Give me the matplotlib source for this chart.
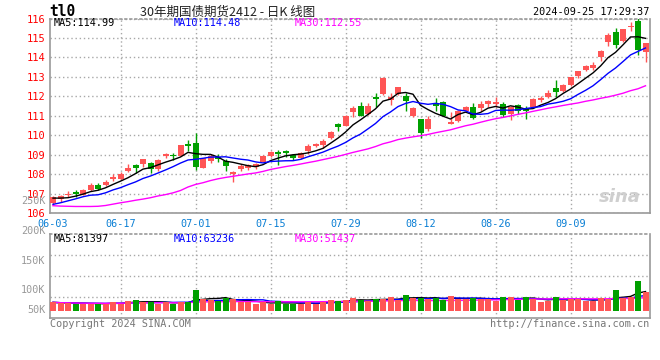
import numpy as np
import pandas as pd
from matplotlib import pyplot as plt


# Daily K-line of the 30-year treasury future (TL2412), 2024-06-03 .. 2024-09-25

dates = ("06-03 06-04 06-05 06-06 06-07 06-11 06-12 06-13 06-14 06-17 "
         "06-18 06-19 06-20 06-21 06-24 06-25 06-26 06-27 06-28 07-01 "
         "07-02 07-03 07-04 07-05 07-08 07-09 07-10 07-11 07-12 07-15 "
         "07-16 07-17 07-18 07-19 07-22 07-23 07-24 07-25 07-26 07-29 "
         "07-30 07-31 08-01 08-02 08-05 08-06 08-07 08-08 08-09 08-12 "
         "08-13 08-14 08-15 08-16 08-19 08-20 08-21 08-22 08-23 08-26 "
         "08-27 08-28 08-29 08-30 09-02 09-03 09-04 09-05 09-06 09-09 "
         "09-10 09-11 09-12 09-13 09-18 09-19 09-20 09-23 09-24 09-25").split()

opens = [106.53, 106.75, 106.93, 107.10, 106.95, 107.20, 107.46, 107.46, 107.76, 107.76,
         108.19, 108.47, 108.51, 108.58, 108.25, 108.93, 108.98, 108.93, 109.58, 109.60,
         108.31, 108.70, 108.88, 108.70, 108.02, 108.27, 108.32, 108.38, 108.65, 108.96,
         109.13, 109.18, 108.99, 108.84, 109.21, 109.47, 109.52, 109.86, 110.60, 110.50,
         111.18, 111.49, 111.10, 111.95, 112.12, 111.81, 112.14, 112.03, 110.97, 110.85,
         110.31, 111.64, 111.73, 110.59, 110.76, 111.27, 111.47, 111.39, 111.59, 111.61,
         111.60, 111.09, 111.55, 111.39, 111.46, 111.80, 111.97, 112.43, 112.28, 112.59,
         113.04, 113.38, 113.44, 114.01, 114.78, 115.31, 114.86, 115.54, 115.88, 114.29]
highs = [106.87, 106.92, 107.12, 107.19, 107.24, 107.56, 107.56, 107.71, 108.02, 108.10,
         108.54, 108.53, 108.81, 108.61, 108.81, 109.12, 109.12, 109.49, 109.76, 110.10,
         108.85, 109.05, 109.06, 108.80, 108.15, 108.53, 108.53, 108.58, 109.00, 109.18,
         109.25, 109.25, 109.04, 109.15, 109.56, 109.62, 109.79, 110.21, 110.62, 111.06,
         111.52, 111.73, 111.66, 112.15, 113.00, 112.20, 112.49, 112.20, 111.44, 110.85,
         111.02, 111.90, 111.78, 111.19, 111.31, 111.53, 111.64, 111.75, 111.81, 111.98,
         111.73, 111.51, 111.63, 111.51, 111.90, 112.02, 112.31, 112.82, 112.65, 113.00,
         113.33, 113.59, 113.76, 114.39, 115.26, 115.51, 115.48, 115.82, 116.05, 114.74]
lows = [106.45, 106.58, 106.85, 106.85, 106.93, 107.17, 107.20, 107.41, 107.68, 107.69,
        108.12, 108.05, 108.36, 108.08, 108.17, 108.85, 108.75, 108.93, 109.19, 108.20,
        108.31, 108.60, 108.61, 108.19, 107.62, 108.19, 108.24, 108.29, 108.63, 108.87,
        108.50, 108.87, 108.72, 108.80, 109.04, 109.42, 109.35, 109.83, 110.21, 110.46,
        110.95, 111.00, 111.07, 111.44, 112.07, 111.56, 112.07, 111.27, 110.93, 109.88,
        110.25, 111.24, 110.97, 110.59, 110.71, 111.19, 110.85, 111.27, 111.44, 111.44,
        110.92, 110.78, 111.09, 110.83, 111.39, 111.73, 111.94, 111.97, 112.23, 112.55,
        112.96, 113.33, 113.35, 113.81, 114.57, 114.49, 114.80, 115.34, 114.15, 113.76]
closes = [106.82, 106.90, 107.00, 107.00, 107.20, 107.46, 107.25, 107.63, 107.88, 108.03,
          108.34, 108.31, 108.78, 108.27, 108.73, 109.03, 108.93, 109.49, 109.46, 108.40,
          108.85, 108.92, 108.80, 108.41, 108.10, 108.41, 108.50, 108.55, 108.92, 109.13,
          109.06, 109.08, 108.84, 109.09, 109.44, 109.57, 109.73, 110.15, 110.41, 110.99,
          111.42, 111.02, 111.53, 111.85, 112.97, 111.95, 112.49, 111.75, 111.41, 110.12,
          110.85, 111.53, 111.02, 110.68, 111.27, 111.47, 110.88, 111.59, 111.78, 111.71,
          111.05, 111.46, 111.26, 111.26, 111.85, 111.92, 112.16, 112.23, 112.59, 112.99,
          113.30, 113.55, 113.61, 114.35, 115.14, 114.66, 115.48, 115.63, 114.40, 114.74]
volumes = [35400, 32600, 32600, 29700, 29700, 29700, 29700, 29700, 36800, 29700,
           41100, 45300, 36800, 36800, 29700, 36800, 29700, 36800, 36800, 87800,
           49600, 45300, 41100, 53800, 49600, 35400, 35400, 28300, 35400, 29700,
           41100, 29700, 29700, 29700, 35400, 29700, 36800, 45300, 41100, 45300,
           53800, 45300, 41100, 49600, 49600, 58100, 45300, 66600, 53800, 53800,
           49600, 53800, 45300, 62300, 49600, 49600, 53800, 49600, 49600, 41100,
           58100, 58100, 45300, 58100, 49600, 36800, 41100, 58100, 45300, 48200,
           49600, 41100, 41100, 53800, 49600, 87800, 53800, 58100, 126100, 80800]

# first points of each price MA depend on bars before 06-03
ma5_head = [106.78, 106.78, 106.80, 106.88]
ma10_head = [106.46, 106.54, 106.64, 106.74, 106.85, 106.93, 106.95, 107.05, 107.20]
ma30_head = [106.39, 106.37, 106.36, 106.35, 106.35, 106.35, 106.36, 106.40, 106.47, 106.54,
             106.60, 106.67, 106.73, 106.80, 106.89, 106.96, 107.05, 107.17, 107.35, 107.48,
             107.57, 107.68, 107.77, 107.84, 107.90, 107.96, 108.02, 108.07, 108.15]

date_ticks = ['06-03', '06-17', '07-01', '07-15', '07-29', '08-12', '08-26', '09-09']
price_ticks = list(range(106, 117))
vol_labels = ['250K', '200K', '150K', '100K', '50K']

ma_price_text = ['MA5:114.99', 'MA10:114.48', 'MA30:112.55']
ma_vol_text = ['MA5:81397', 'MA10:63236', 'MA30:51437']

RED = '#ff5555'
GREEN = '#00a000'
MA_COLORS = ['black', '#0000ff', '#ff00ff']
GRID = '#a8a8a8'
FRAME = '#999999'
MONO = 'DejaVu Sans Mono'
W, H = 660, 360


# Axes rectangle from pixel edges of the 660x360 picture
def box(left, top, right, bottom):
    return [left / W, 1 - bottom / H, (right - left) / W, (bottom - top) / H]


# Figure text placed by pixel coordinates
def ptext(fig, x, y, s, **kw):
    kw.setdefault('family', MONO)
    kw.setdefault('va', 'center')
    fig.text(x / W, 1 - y / H, s, **kw)


def moving_average(values, window, head=None):
    if head is None:
        return pd.Series(values).rolling(window, min_periods=1).mean().to_numpy()
    ma = pd.Series(values).rolling(window).mean().to_numpy()
    ma[:len(head)] = head
    return ma


def style_panel(ax, xticks):
    ax.set_xlim(-0.4, 79.6)
    ax.set_xticks(xticks)
    ax.grid(True, color=GRID, linestyle=(0, (1, 2)), linewidth=1)
    ax.set_axisbelow(True)
    ax.get_xgridlines()[0].set_visible(False)
    for side, sp in ax.spines.items():
        sp.set_color(FRAME)
        sp.set_linewidth(1.2)
    ax.spines['top'].set_linestyle((0, (1, 2)))
    ax.tick_params(length=0)


if __name__ == "__main__":

    x = np.arange(len(closes))
    o, h, l, c = (np.array(v) for v in (opens, highs, lows, closes))
    colors = np.where(c >= o, RED, GREEN)
    xticks = [dates.index(d) for d in date_ticks]

    fig = plt.figure(figsize=(W / 100, H / 100), dpi=100)
    ax = fig.add_axes(box(50, 18.5, 650, 213.3))
    axv = fig.add_axes(box(50, 234.3, 650, 317.7))

    # Price candles
    ax.vlines(x, l, h, colors=colors, linewidth=1, zorder=2)
    body = np.maximum(np.abs(c - o), 0.04)
    ax.bar(x, body, bottom=np.minimum(o, c), width=0.8, color=colors, linewidth=0, zorder=3)

    price_ma = [moving_average(closes, 5, ma5_head),
                moving_average(closes, 10, ma10_head),
                moving_average(closes, 30, ma30_head)]
    for ma, col in zip(price_ma, MA_COLORS):
        ax.plot(x, ma, color=col, linewidth=1, zorder=4)

    style_panel(ax, xticks)
    ax.set_ylim(106, 116)
    ax.set_yticks(price_ticks)
    ax.set_yticklabels([str(t) for t in price_ticks], color='red', family=MONO, fontsize=7.5)
    ax.set_xticklabels(date_ticks, color='#0a7fd4', family=MONO, fontsize=7.3)
    ax.tick_params(axis='y', pad=3.5)
    ax.tick_params(axis='x', pad=4)

    # sina watermark
    ax.text(0.985, 0.085, 'sina', transform=ax.transAxes, ha='right', va='center',
            fontsize=13, fontweight='bold', style='italic', color='#cfcfcf', zorder=1)

    # Volume bars, MA lines sit behind them
    axv.bar(x, volumes, width=0.8, color=colors, linewidth=0, zorder=3)
    for w, col in zip([5, 10, 30], MA_COLORS):
        axv.plot(x, moving_average(volumes, w), color=col, linewidth=1, zorder=2)

    style_panel(axv, xticks)
    vlo, vhi = -29750, 324700
    axv.set_ylim(vlo, vhi)
    axv.set_yticks(np.linspace(vlo, vhi, 5)[1:4])
    axv.set_yticklabels([])
    axv.set_xticklabels([])
    for lab, fy in zip(vol_labels, [1.403, 1.043, 0.683, 0.332, 0.089]):
        axv.text(-0.0075, fy, lab, transform=axv.transAxes, ha='right', va='center',
                 family=MONO, fontsize=7.3, color='#999999', clip_on=False)

    # Header texts
    ptext(fig, 49, 11.5, 'tl0', fontsize=10.5, fontweight='bold', ha='left')
    ptext(fig, 140, 12, '30年期国债期货2412 - 日K 线图', ha='left', fontsize=9,
          color='#222222', family=['Noto Sans CJK SC', 'DejaVu Sans'])
    ptext(fig, 649, 12, '2024-09-25 17:29:37', ha='right', fontsize=7.3)

    for s, px, col in zip(ma_price_text, [54, 174, 295], MA_COLORS):
        ptext(fig, px, 23.5, s, ha='left', fontsize=7.3, color=col)
    for s, px, col in zip(ma_vol_text, [54, 174, 295], MA_COLORS):
        ptext(fig, px, 238.5, s, ha='left', fontsize=7.3, color=col)

    ptext(fig, 50, 324, 'Copyright 2024 SINA.COM', ha='left', fontsize=7.3, color='#777777')
    ptext(fig, 649, 324, 'http://finance.sina.com.cn', ha='right', fontsize=7.3, color='#777777')

    plt.savefig('out.png', dpi=100)
